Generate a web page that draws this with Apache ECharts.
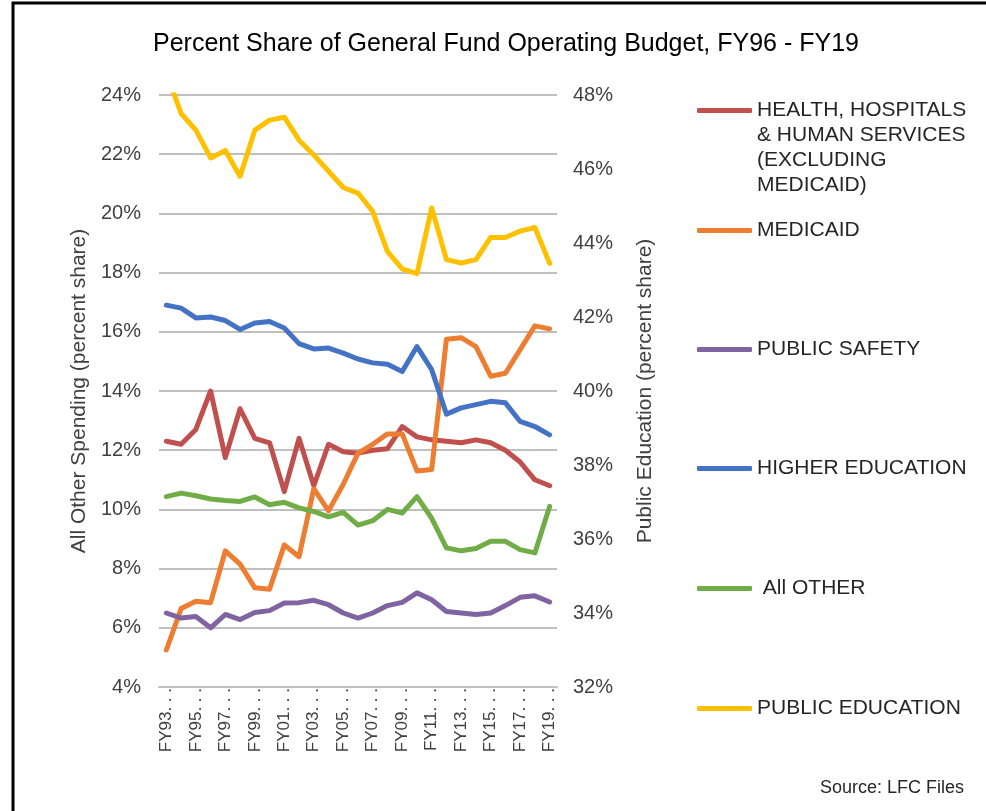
<!DOCTYPE html>
<html>
<head>
<meta charset="utf-8">
<script src="https://cdn.jsdelivr.net/npm/echarts@6/dist/echarts.min.js"></script>
<style>
html, body { margin: 0; padding: 0; background: #fff; }
#chart { width: 986px; height: 811px; }
</style>
</head>
<body>
<div id="chart"></div>
<script>
// fiscal years on the x axis
const years = ['FY93', 'FY94', 'FY95', 'FY96', 'FY97', 'FY98', 'FY99', 'FY00', 'FY01', 'FY02',
  'FY03', 'FY04', 'FY05', 'FY06', 'FY07', 'FY08', 'FY09', 'FY10', 'FY11', 'FY12',
  'FY13', 'FY14', 'FY15', 'FY16', 'FY17', 'FY18', 'FY19']

// left axis: percent share
const health = [12.3, 12.2, 12.7, 14.0, 11.75, 13.4, 12.4, 12.25, 10.6, 12.4,
  10.8, 12.2, 11.95, 11.9, 12.0, 12.05, 12.8, 12.45, 12.35, 12.3,
  12.25, 12.35, 12.25, 12.0, 11.6, 11.0, 10.8]
const medicaid = [5.25, 6.65, 6.9, 6.85, 8.6, 8.15, 7.35, 7.3, 8.8, 8.4,
  10.7, 9.95, 10.85, 11.9, 12.2, 12.55, 12.55, 11.3, 11.35, 15.75,
  15.8, 15.5, 14.5, 14.6, 15.4, 16.2, 16.1]
const publicSafety = [6.5, 6.33, 6.38, 6.0, 6.45, 6.28, 6.52, 6.58, 6.84, 6.85,
  6.93, 6.78, 6.5, 6.33, 6.5, 6.75, 6.86, 7.18, 6.95, 6.55,
  6.5, 6.45, 6.5, 6.75, 7.03, 7.08, 6.87]
const higherEd = [16.9, 16.8, 16.47, 16.5, 16.38, 16.08, 16.3, 16.35, 16.13, 15.6,
  15.42, 15.45, 15.28, 15.08, 14.95, 14.9, 14.66, 15.5, 14.72, 13.22,
  13.43, 13.54, 13.65, 13.6, 12.97, 12.8, 12.52]
const allOther = [10.43, 10.55, 10.46, 10.35, 10.3, 10.27, 10.42, 10.16, 10.24, 10.05,
  9.93, 9.75, 9.9, 9.47, 9.62, 10.0, 9.88, 10.43, 9.7, 8.7,
  8.6, 8.68, 8.92, 8.92, 8.64, 8.53, 10.1]
// right axis: public education
const publicEd = [48.6, 47.5, 47.05, 46.3, 46.5, 45.8, 47.05, 47.32, 47.4, 46.78,
  46.38, 45.94, 45.5, 45.35, 44.85, 43.77, 43.3, 43.17, 44.95, 43.55,
  43.46, 43.55, 44.15, 44.15, 44.32, 44.42, 43.45]

const names = [
  'HEALTH, HOSPITALS\n& HUMAN SERVICES\n(EXCLUDING\nMEDICAID)',
  'MEDICAID',
  'PUBLIC SAFETY',
  'HIGHER EDUCATION',
  ' All OTHER',
  'PUBLIC EDUCATION'
]
const colors = ['#C0504D', '#ED7D31', '#8064A2', '#4472C4', '#70AD47', '#FFC000']
const legendTops = [23, 218, 337, 456, 576, 696]

const font = 'Liberation Sans, Arial, sans-serif'
const txt = '#404040'

// one legend per item so each can sit at its own height;
// the long first label gets blank lines above it so its first line lines up with the swatch
let legends = names.map((n, i) => ({
  data: [n],
  left: 697,
  top: legendTops[i],
  icon: 'roundRect',
  itemWidth: 55,
  itemHeight: 5,
  itemGap: 0,
  padding: 0,
  selectedMode: false,
  formatter: name => (i === 0 ? '\n\n\n' + name : name),
  textStyle: {
    color: '#262626',
    fontFamily: font,
    fontSize: 21,
    lineHeight: 25,
    padding: [0, 0, 0, 0]
  }
}))

let seriesData = [health, medicaid, publicSafety, higherEd, allOther, publicEd]
let series = seriesData.map((d, i) => ({
  name: names[i],
  type: 'line',
  data: d,
  yAxisIndex: i === 5 ? 1 : 0,
  symbol: 'none',
  smooth: false,
  z: i === 5 ? 1 : 2,
  lineStyle: { color: colors[i], width: 5, cap: 'round', join: 'round' },
  itemStyle: { color: colors[i] }
}))

let option = {
  animation: false,
  title: {
    text: 'Percent Share of General Fund Operating Budget, FY96 - FY19',
    left: 501,
    textAlign: 'center',
    top: 27,
    textStyle: { color: '#000', fontFamily: font, fontSize: 25, fontWeight: 'normal' }
  },
  legend: legends,
  grid: { left: 159, right: 429, top: 95, bottom: 124 },
  xAxis: {
    type: 'category',
    data: years,
    boundaryGap: true,
    axisLine: { show: true, lineStyle: { color: '#BFBFBF', width: 2 } },
    axisTick: { show: false },
    axisLabel: {
      interval: 1,
      rotate: 90,
      margin: 1,
      color: txt,
      fontFamily: font,
      fontSize: 17,
      formatter: v => v + '. . .'
    }
  },
  yAxis: [
    {
      type: 'value',
      min: 4,
      max: 24,
      interval: 2,
      name: 'All Other Spending (percent share)',
      nameLocation: 'middle',
      nameRotate: 90,
      nameGap: 69,
      nameTextStyle: { color: txt, fontFamily: font, fontSize: 21 },
      axisLine: { show: false },
      axisTick: { show: false },
      splitLine: { lineStyle: { color: '#BFBFBF', width: 2 } },
      axisLabel: { color: txt, fontFamily: font, fontSize: 20, margin: 18, formatter: '{value}%' }
    },
    {
      type: 'value',
      min: 32,
      max: 48,
      interval: 2,
      name: 'Public Education (percent share)',
      nameLocation: 'middle',
      nameRotate: 90,
      nameGap: 78,
      nameTextStyle: { color: txt, fontFamily: font, fontSize: 21 },
      axisLine: { show: false },
      axisTick: { show: false },
      splitLine: { show: false },
      axisLabel: { color: txt, fontFamily: font, fontSize: 20, margin: 16, formatter: '{value}%' }
    }
  ],
  graphic: [
    { type: 'rect', shape: { x: 13, y: 3, width: 990, height: 830 },
      style: { fill: 'none', stroke: '#000', lineWidth: 3 }, silent: true },
    { type: 'text', right: 22, top: 779,
      style: { text: 'Source: LFC Files', fill: '#262626', font: '18px ' + font } }
  ],
  series: series
}

let myChart = echarts.init(document.getElementById('chart'))
myChart.setOption(option)
</script>
</body>
</html>
